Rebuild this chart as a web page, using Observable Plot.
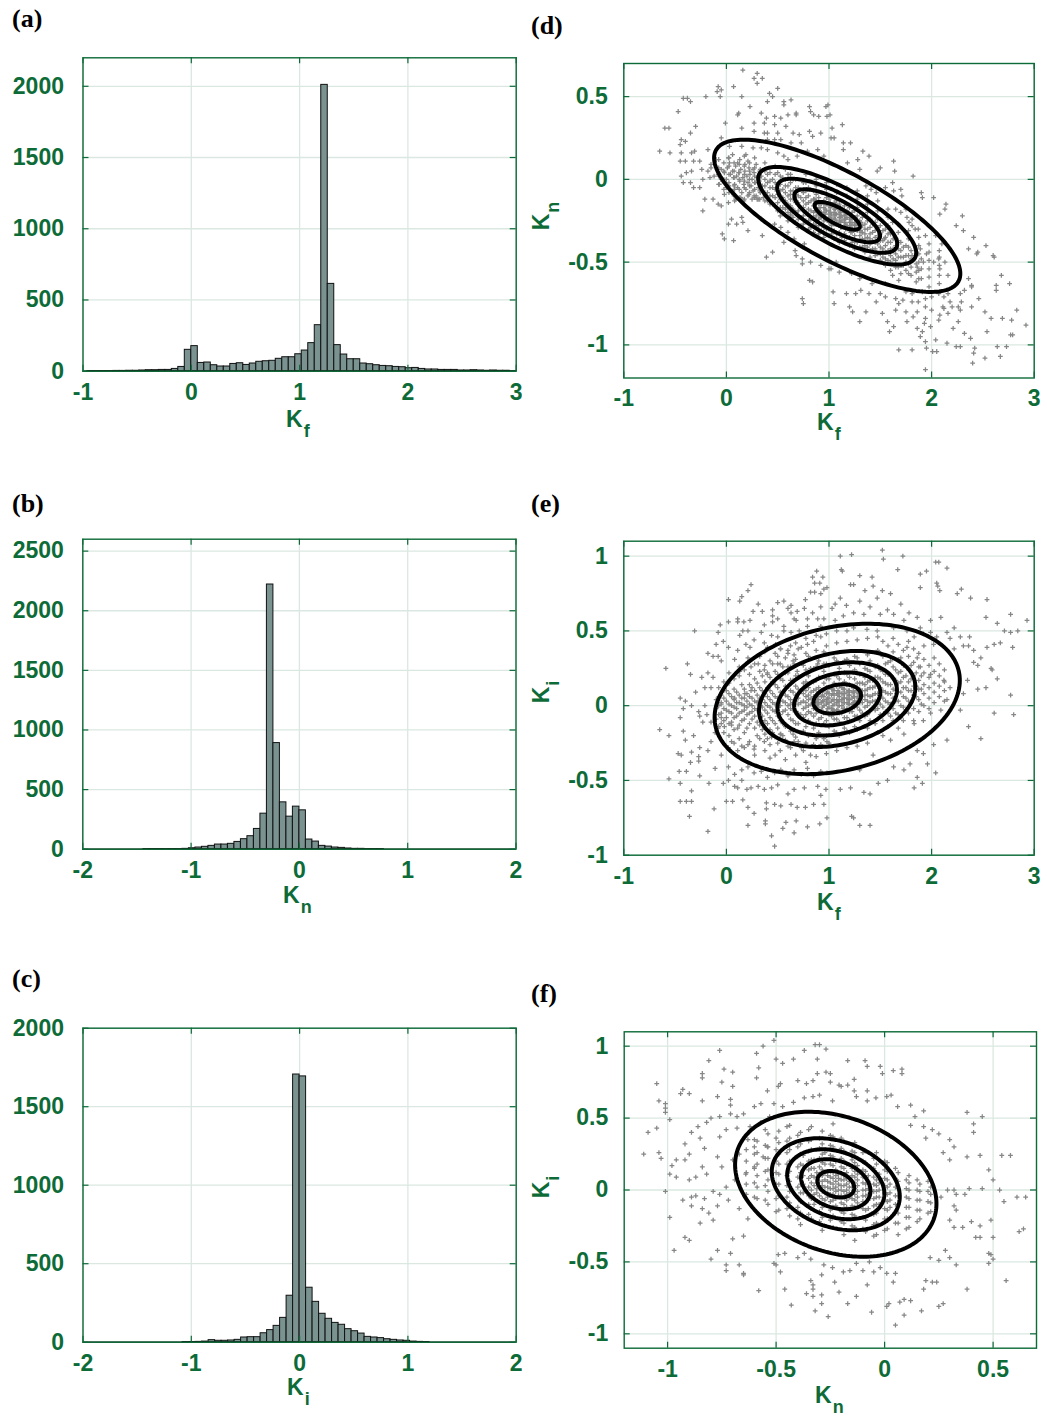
<!DOCTYPE html>
<html><head><meta charset="utf-8">
<script src="https://cdn.jsdelivr.net/npm/d3@7"></script>
<script src="https://cdn.jsdelivr.net/npm/@observablehq/plot@0.6"></script>
<style>
body{margin:0;background:#fff;}
#root{position:relative;width:1047px;height:1416px;overflow:hidden;background:#fff;font-family:"Liberation Sans",Arial,sans-serif;}
.plabel{position:absolute;font-family:"Liberation Serif","Times New Roman",serif;font-weight:bold;font-size:26px;line-height:1;color:#000;}
.alabel{position:absolute;font-family:"Liberation Sans",Arial,sans-serif;font-weight:bold;font-size:23px;line-height:1;color:#0d6b38;white-space:nowrap;}
.alabel span{font-size:18px;position:relative;top:10px;margin-left:1px;}
.ylab{transform:translate(-50%,-50%) rotate(-90deg);}
</style></head>
<body><div id="root"></div>
<script>
// ---------------- DATA ----------------
const binWidth = 0.06;
const aStart = -0.96; // (a) K_f
const aCounts = [1,1,1,1,2,2,3,3,5,7,7,9,9,16,30,150,176,58,61,42,33,33,51,56,44,54,66,70,73,87,98,98,119,145,197,323,2010,613,183,117,84,84,54,49,42,37,35,30,28,21,23,16,12,12,9,9,9,5,5,7,5,3,5,3,3,1];
const bStart = -1.98; // (b) K_n
const bCounts = [0,0,0,0,0,0,0,0,0,1,1,1,1,1,1,3,8,14,20,28,39,39,45,61,84,109,170,298,2220,890,393,273,357,326,81,64,28,22,14,11,6,3,3,1,1,1,0,0,0,0,0,0,0,0,0,0,0,0,0,0,0,0,0,0,0,0];
const cStart = -1.98; // (c) K_i
const cCounts = [0,0,0,0,0,0,0,0,0,0,0,0,0,0,0,1,1,2,4,13,9,9,11,15,30,32,32,57,77,104,155,296,1705,1693,347,257,181,149,123,111,83,70,55,34,30,26,19,15,11,9,4,2,1,0,0,0,0,0,0,0,0,0,0,0,0,0];

// (d) K_f vs K_n
const dOut = [[0.16,0.66],[0.30,0.64],[0.27,0.61],[0.35,0.61],[0.30,0.58],[-0.08,0.56],[-0.05,0.54],[0.07,0.56],[0.50,0.55],[-0.09,0.53],[-0.06,0.50],[-0.20,0.50],[-0.42,0.49],[-0.38,0.49],[-0.35,0.47],[0.15,0.50],[0.42,0.52],[0.45,0.50],[0.40,0.47],[0.56,0.47],[0.63,0.48],[0.56,0.45],[-0.47,0.41],[0.23,0.44],[0.12,0.40],[0.11,0.39],[0.34,0.40],[0.39,0.37],[0.47,0.38],[0.53,0.37],[0.60,0.39],[0.68,0.40],[0.68,0.39],[0.81,0.44],[0.82,0.41],[0.85,0.39],[0.90,0.38],[0.97,0.44],[0.98,0.38],[-0.60,0.31],[-0.56,0.31],[-0.30,0.32],[-0.01,0.34],[0.15,0.31],[0.27,0.34],[0.37,0.34],[0.47,0.33],[0.58,0.32],[0.27,0.29],[0.37,0.28],[0.40,0.28],[0.50,0.28],[0.65,0.28],[0.71,0.27],[0.81,0.29],[0.84,0.26],[0.92,0.28],[0.73,0.22],[0.63,0.22],[0.53,0.24],[0.47,0.24],[0.40,0.24],[-0.35,0.28],[-0.44,0.24],[-0.40,0.23],[-0.45,0.21],[-0.65,0.17],[-0.55,0.16],[-0.44,0.16],[-0.34,0.16],[-0.31,0.17],[-0.18,0.18],[-0.05,0.25],[0.03,0.20],[0.15,0.20],[0.26,0.19],[0.34,0.19],[0.40,0.18],[0.50,0.16],[0.56,0.14],[0.60,0.12],[0.69,0.14],[0.79,0.17],[0.89,0.18],[0.95,0.14],[-0.45,0.11],[-0.40,0.11],[-0.32,0.11],[-0.26,0.11],[-0.44,0.02],[-0.39,0.04],[-0.34,0.05],[-0.24,0.06],[-0.15,0.07],[-0.42,-0.02],[-0.35,-0.02],[-0.32,-0.05],[-0.26,-0.05],[-0.23,0.00],[-0.16,0.01],[-0.05,0.00],[0.02,-0.04],[0.08,-0.06],[-0.21,-0.12],[-0.13,-0.12],[-0.08,-0.15],[-0.23,-0.19],[-0.05,-0.16],[0.02,-0.14],[0.08,-0.13],[0.15,-0.12],[0.21,-0.10],[0.27,-0.10],[0.31,-0.12],[0.05,-0.24],[0.15,-0.23],[0.02,-0.27],[0.10,-0.27],[0.16,-0.26],[0.21,-0.31],[0.34,-0.24],[0.47,-0.27],[-0.04,-0.33],[-0.02,-0.36],[0.07,-0.37],[0.35,-0.34],[0.53,-0.29],[0.60,-0.32],[0.45,-0.44],[0.39,-0.47],[0.67,-0.43],[0.68,-0.46],[0.74,-0.48],[0.74,-0.51],[0.82,-0.50],[0.81,-0.61],[0.84,-0.62],[0.74,-0.72],[0.75,-0.75],[0.92,-0.52],[1.00,-0.54],[0.56,-0.38],[0.66,-0.36],[0.76,-0.39],
[0.99,0.45],[1.01,0.39],[1.03,0.31],[1.02,0.25],[1.05,0.25],[1.13,0.33],[1.14,0.22],[1.21,0.22],[1.14,0.18],[1.33,0.17],[1.39,0.14],[1.28,0.12],[1.18,0.10],[1.30,0.06],[1.47,0.05],[1.50,0.07],[1.63,0.11],[1.64,0.05],[1.82,0.02],[1.36,-0.04],[1.41,-0.06],[1.46,-0.08],[1.55,-0.05],[1.62,-0.02],[1.63,-0.07],[1.70,-0.06],[1.71,-0.10],[1.90,-0.08],[1.91,-0.11],[2.02,-0.11],[2.14,-0.15],[2.08,-0.21],[2.13,-0.18],[2.30,-0.22],[2.24,-0.28],[2.31,-0.31],[2.41,-0.35],[2.53,-0.40],[2.36,-0.42],[2.45,-0.44],[2.44,-0.45],[2.60,-0.46],[2.61,-0.47],[2.68,-0.58],[2.76,-0.63],[2.63,-0.64],[2.63,-0.67],[2.36,-0.60],[2.39,-0.64],[2.46,-0.72],[2.39,-0.77],[2.28,-0.79],[2.20,-0.77],[2.11,-0.77],[2.08,-0.82],[2.16,-0.81],[2.26,-0.86],[2.21,-0.90],[2.32,-0.93],[2.38,-0.96],[2.42,-1.02],[2.41,-1.05],[2.52,-0.80],[2.58,-0.84],[2.54,-0.92],[2.69,-0.84],[2.78,-0.85],[2.83,-0.79],[2.92,-0.88],[2.77,-0.94],[2.79,-0.94],[2.64,-1.01],[2.73,-1.01],[2.67,-1.07],[2.52,-1.08],[2.40,-1.11],[2.24,-1.01],[2.28,-1.01],[2.15,-0.99],[2.04,-0.97],[2.01,-1.04],[2.05,-1.04],[1.94,-0.98],[1.95,-1.02],[1.94,-1.15],[1.81,-1.03],[1.68,-1.03],[1.89,-0.95],[1.91,-0.92],[1.86,-0.90],[1.93,-0.87],[1.99,-0.89],[1.94,-0.84],[2.00,-0.79],[2.07,-0.85],[1.76,-0.86],[1.75,-0.80],[1.65,-0.79],[1.63,-0.89],[1.59,-0.92],[1.57,-0.86],[1.52,-0.81],[1.30,-0.86],[1.36,-0.80],[1.23,-0.80],[1.20,-0.77],[1.05,-0.75],[1.04,-0.68],
[1.17,-0.69],[1.26,-0.69],[1.31,-0.67],[1.39,-0.69],[1.46,-0.74],[1.55,-0.71],[1.65,-0.72],[1.72,-0.73],[1.81,-0.74],[1.87,-0.74],[1.81,-0.69],[1.75,-0.68],[1.91,-0.68],[2.00,-0.71],[2.07,-0.69],[2.12,-0.71],[2.16,-0.69],[2.28,-0.69],[2.32,-0.67],[2.39,-0.65],[2.29,-0.74],[2.26,-0.77],[2.18,-0.74],[2.12,-0.78],[1.94,-0.72],[1.94,-0.77],[1.86,-0.80],[1.82,-0.83],[1.68,-0.75],[1.50,-0.69],[1.42,-0.63],[1.30,-0.60],[1.22,-0.57],[1.10,-0.56],[1.02,-0.54],[1.07,-0.50],[1.62,-0.58],[1.68,-0.61],[1.55,-0.63],[1.71,-0.52],[1.86,-0.53],[1.92,-0.50],[1.81,-0.46],[1.95,-0.45],[2.02,-0.50],[2.08,-0.54],[2.16,-0.58],[2.07,-0.48],[2.13,-0.50],[1.89,-0.42],[1.94,-0.34],[1.84,-0.30],[1.97,-0.28],[2.04,-0.34],[2.10,-0.39],[1.76,-0.23],[1.78,-0.26],[1.81,-0.28],[1.87,-0.30],[1.70,-0.20],[1.65,-0.18],[1.75,-0.18],[1.81,-0.24],[1.62,-0.26],[1.60,-0.32],[1.54,-0.36]];
const dBlob = [[-0.08,0.03],[-0.05,0.06],[-0.04,-0.01],[-0.02,0.04],[0.0,0.0],[0.01,0.07],[0.02,-0.04],[0.04,0.03],[0.05,-0.07],[0.06,0.05],[0.07,0.01],[0.08,-0.03],[0.09,0.08],[0.1,0.02],[0.11,-0.05],[0.12,0.04],[0.13,-0.01],[0.14,0.06],[0.15,-0.08],[0.16,0.01],[0.17,-0.03],[0.18,0.05],[0.19,-0.06],[0.2,0.02],[0.21,-0.02],[0.22,-0.09],[0.23,0.03],[0.24,-0.04],[0.25,0.0],[0.26,-0.07],[0.27,0.04],[0.28,-0.02],[0.29,-0.1],[0.3,0.01],[0.31,-0.05],[0.32,-0.01],[0.33,-0.08],[0.34,0.02],[0.35,-0.04],[0.36,-0.11],[0.0,-0.05],[0.03,0.1],[0.07,-0.09],[0.11,0.1],[0.14,-0.11],[0.18,0.09],[0.22,0.07],[0.26,0.06],[0.3,-0.12],[0.33,0.06],[-0.15,0.09],[-0.12,0.02],[-0.1,0.12],[-0.07,-0.03],[0.02,0.13],[0.06,0.15],[0.09,-0.12],[0.13,0.12],[0.17,-0.13],[0.21,0.11],[0.25,-0.12],[0.29,0.09],[0.19,0.15],[-0.18,0.05],[-0.02,-0.09]];
const dColKf = [0.4,0.45,0.5,0.55,0.6,0.65,0.7,0.75,0.8,0.85,0.9,0.95,1.0,1.05,1.1,1.15,1.2,1.25,1.3,1.35,1.4,1.45,1.5,1.55,1.6,1.65,1.7,1.75,1.8,1.85,1.9];
const dColKn = [[-0.02,-0.08,-0.13,0.03],[-0.05,-0.1,-0.15,0.0],[-0.03,-0.09,-0.14,-0.19,0.04],[-0.06,-0.11,-0.17,0.01],[-0.04,-0.1,-0.15,-0.2,-0.25,0.03],[-0.07,-0.12,-0.18,-0.23,0.0],[-0.05,-0.1,-0.14,-0.19,-0.24,-0.29],[-0.08,-0.13,-0.17,-0.22,-0.27,-0.02],[-0.1,-0.14,-0.18,-0.21,-0.25,-0.3,-0.05],[-0.12,-0.16,-0.2,-0.23,-0.27,-0.32,-0.07],[-0.11,-0.15,-0.18,-0.21,-0.24,-0.28,-0.33],[-0.13,-0.17,-0.2,-0.22,-0.25,-0.29,-0.35],[-0.12,-0.16,-0.19,-0.21,-0.23,-0.26,-0.3,-0.34],[-0.14,-0.18,-0.2,-0.22,-0.24,-0.27,-0.31,-0.36],[-0.15,-0.19,-0.21,-0.23,-0.25,-0.28,-0.32,-0.38],[-0.16,-0.2,-0.22,-0.24,-0.26,-0.29,-0.33,-0.37],[-0.17,-0.21,-0.24,-0.26,-0.28,-0.31,-0.35,-0.4],[-0.19,-0.23,-0.26,-0.28,-0.3,-0.34,-0.38,-0.42],[-0.2,-0.25,-0.28,-0.31,-0.34,-0.37,-0.41],[-0.22,-0.27,-0.3,-0.33,-0.36,-0.4,-0.44],[-0.24,-0.29,-0.33,-0.36,-0.39,-0.43,-0.47],[-0.26,-0.31,-0.35,-0.38,-0.42,-0.46],[-0.28,-0.33,-0.37,-0.41,-0.45,-0.49],[-0.3,-0.35,-0.4,-0.44,-0.48,-0.52],[-0.33,-0.38,-0.42,-0.46,-0.5,-0.55],[-0.35,-0.4,-0.45,-0.49,-0.53],[-0.38,-0.43,-0.47,-0.52,-0.57],[-0.4,-0.46,-0.5,-0.55],[-0.43,-0.48,-0.53,-0.58],[-0.45,-0.51,-0.56,-0.62],[-0.48,-0.54,-0.6]];
const dCol2Kf = [0.625,0.725,0.825,0.925,1.025,1.125,1.225,1.325,1.425,1.525,1.625,1.725];
const dCol2Kn = [[-0.09,-0.16,-0.21],[-0.11,-0.17,-0.23,-0.28],[-0.13,-0.19,-0.24,-0.29],[-0.15,-0.2,-0.23,-0.27,-0.31],[-0.16,-0.21,-0.24,-0.28,-0.33],[-0.18,-0.22,-0.25,-0.29,-0.35],[-0.2,-0.24,-0.27,-0.32,-0.38],[-0.23,-0.28,-0.32,-0.36,-0.41],[-0.27,-0.32,-0.37,-0.42],[-0.31,-0.37,-0.42,-0.47],[-0.36,-0.42,-0.48],[-0.41,-0.47,-0.52]];
const dCol3Kf = [-0.075,-0.025,0.025,0.075,0.125,0.175,0.225,0.275,0.325,0.375,0.425,0.475,0.525,0.575,0.625,0.675,0.775,0.875,0.975,1.075,1.175,1.275,1.375,1.475,1.575,1.675,1.775,1.875,1.975,2.075];
const dCol3Kn = [[0.02,-0.03,0.07,0.12],[0.0,0.05,-0.06,0.1],[0.03,-0.02,0.08,-0.08,0.13],[0.01,0.05,-0.04,0.1,-0.1],[0.0,0.04,-0.06,0.09,-0.11],[-0.01,0.03,-0.05,0.08,-0.12,0.14],[0.0,-0.04,0.05,-0.08,0.1],[-0.02,0.02,-0.06,0.07,-0.11,0.13],[-0.03,0.01,-0.07,0.05,-0.12],[-0.04,0.0,-0.08,0.05,-0.13,0.1],[-0.05,-0.01,-0.1,0.04,-0.15],[-0.06,-0.02,-0.11,0.03,-0.16,0.08],[-0.07,-0.03,-0.12,0.02,-0.17,-0.22],[-0.08,-0.04,-0.13,0.0,-0.18,0.06],[-0.07,-0.12,-0.02,-0.17,0.03,-0.22],[-0.09,-0.05,-0.14,0.0,-0.2,-0.26],[-0.11,-0.07,-0.15,-0.02,-0.2,-0.25,0.03],[-0.13,-0.09,-0.17,-0.04,-0.22,-0.28,0.0],[-0.15,-0.11,-0.19,-0.06,-0.24,-0.3,-0.02],[-0.17,-0.13,-0.21,-0.08,-0.26,-0.33,-0.03],[-0.19,-0.15,-0.23,-0.1,-0.28,-0.35,-0.05],[-0.22,-0.17,-0.26,-0.12,-0.31,-0.38,-0.07],[-0.25,-0.2,-0.3,-0.15,-0.35,-0.41,-0.1],[-0.29,-0.24,-0.34,-0.19,-0.39,-0.45,-0.13],[-0.33,-0.28,-0.38,-0.23,-0.43,-0.49,-0.18],[-0.37,-0.32,-0.42,-0.27,-0.47,-0.53],[-0.41,-0.36,-0.46,-0.31,-0.51,-0.57],[-0.45,-0.4,-0.5,-0.35,-0.55,-0.6],[-0.49,-0.44,-0.54,-0.39,-0.59,-0.65],[-0.52,-0.47,-0.58,-0.43,-0.63]];
const dCol4Kf = [0.8625,0.9125,0.9625,1.0125,1.0625,1.1125,1.1625,1.2125,1.2625,1.3125];
const dCol4Kn = [[-0.15,-0.19,-0.12],[-0.17,-0.14,-0.2,-0.23],[-0.18,-0.15,-0.21,-0.24],[-0.2,-0.17,-0.23,-0.26,-0.14],[-0.21,-0.18,-0.24,-0.27,-0.15],[-0.23,-0.2,-0.26,-0.29,-0.17],[-0.24,-0.21,-0.27,-0.3],[-0.26,-0.23,-0.29,-0.32],[-0.27,-0.3,-0.24],[-0.29,-0.32,-0.26]];

// (e) K_f vs K_i
const eOut = [[0.88,0.90],[0.84,0.86],[0.94,0.86],[0.86,0.82],[0.91,0.82],[0.95,0.78],[0.86,0.76],[0.82,0.76],[0.92,0.75],[0.98,0.79],[0.24,0.81],[0.21,0.77],[0.15,0.73],[0.02,0.71],[0.13,0.70],[0.31,0.68],[0.50,0.69],[0.56,0.70],[0.63,0.67],[0.60,0.65],[0.69,0.63],[0.77,0.71],[0.76,0.65],[0.84,0.62],[0.92,0.66],[0.26,0.63],[0.35,0.63],[0.45,0.64],[0.45,0.60],[0.50,0.58],[0.56,0.53],[0.63,0.62],[0.66,0.58],[0.68,0.57],[0.79,0.58],[0.89,0.58],[0.95,0.58],[-0.31,0.50],[-0.08,0.49],[-0.06,0.54],[0.02,0.56],[0.11,0.58],[0.11,0.56],[0.17,0.56],[0.23,0.57],[0.37,0.54],[0.45,0.56],[0.56,0.50],[0.63,0.49],[0.71,0.50],[0.79,0.53],[0.92,0.53],[0.16,0.50],[0.21,0.50],[0.34,0.49],[0.44,0.47],[0.50,0.46],[0.13,0.47],[0.02,0.39],[0.11,0.37],[0.19,0.41],[0.23,0.39],[0.27,0.44],[0.37,0.42],[0.40,0.39],[0.48,0.41],[0.53,0.38],[0.60,0.37],[0.66,0.34],[0.73,0.39],[0.79,0.41],[0.85,0.43],[0.92,0.46],[-0.03,0.43],[-0.10,0.41],[-0.13,0.33],[-0.18,0.35],[-0.08,0.33],[-0.05,0.30],[0.08,0.31],[0.21,0.32],[0.13,0.23],[0.24,0.26],[0.31,0.28],[0.37,0.24],[0.40,0.21],[0.50,0.28],[0.60,0.26],[0.66,0.28],[0.69,0.23],[0.82,0.25],[0.89,0.28],[0.95,0.28],[-0.59,0.25],[-0.38,0.28],[-0.35,0.21],[-0.24,0.19],[-0.18,0.22],[-0.13,0.19],[-0.15,0.12],[-0.21,0.12],[-0.30,0.09],[-0.45,0.05],[-0.40,0.03],[-0.34,0.00],[-0.42,-0.02],[-0.45,-0.08],[-0.27,-0.04],[-0.21,0.00],[-0.19,-0.06],[-0.26,-0.07],[-0.23,-0.11],[-0.15,-0.11],[-0.08,-0.15],[-0.05,-0.08],[-0.02,-0.14],[0.05,-0.11],[0.11,-0.15],[-0.05,0.02],[0.08,0.05],[0.18,0.08],[0.24,0.10],[0.31,0.03],[-0.65,-0.16],[-0.56,-0.20],[-0.42,-0.17],[-0.40,-0.23],[-0.32,-0.20],[-0.26,-0.28],[-0.34,-0.31],[-0.27,-0.34],[-0.18,-0.30],[-0.15,-0.24],[-0.11,-0.18],[-0.05,-0.33],[0.02,-0.28],[0.05,-0.24],[0.11,-0.30],[0.15,-0.27],[0.21,-0.26],[0.27,-0.29],[0.37,-0.24],[0.44,-0.21],[0.53,-0.19],[0.66,-0.24],[0.73,-0.28],[0.82,-0.33],[0.92,-0.26],[0.98,-0.24],[-0.47,-0.32],[-0.44,-0.33],[-0.46,-0.44],[-0.39,-0.44],[-0.35,-0.38],[-0.27,-0.37],[-0.11,-0.42],[0.02,-0.41],[0.08,-0.46],[0.15,-0.43],[0.21,-0.41],[0.27,-0.45],[0.34,-0.44],[0.40,-0.48],[0.47,-0.45],[0.53,-0.43],[0.60,-0.47],[0.66,-0.43],[0.73,-0.46],[0.79,-0.42],[0.85,-0.47],[0.92,-0.44],[0.98,-0.45],[-0.56,-0.49],[-0.45,-0.52],[-0.34,-0.57],[-0.26,-0.47],[-0.17,-0.52],[-0.03,-0.52],[0.02,-0.50],[0.08,-0.54],[0.11,-0.55],[0.15,-0.50],[0.20,-0.56],[0.24,-0.55],[0.31,-0.54],[0.37,-0.56],[0.44,-0.55],[0.50,-0.53],[0.60,-0.59],[0.66,-0.56],[0.76,-0.55],[0.89,-0.54],[0.97,-0.56],[-0.45,-0.64],[-0.39,-0.64],[-0.34,-0.64],[-0.36,-0.74],[-0.12,-0.69],[0.00,-0.64],[0.06,-0.64],[0.16,-0.63],[0.21,-0.68],[0.27,-0.72],[0.39,-0.65],[0.39,-0.69],[0.47,-0.66],[0.53,-0.67],[0.63,-0.66],[0.69,-0.68],[0.77,-0.68],[0.85,-0.66],[0.92,-0.60],[0.95,-0.66],[-0.18,-0.84],[0.21,-0.80],[0.38,-0.77],[0.38,-0.79],[0.44,-0.87],[0.58,-0.78],[0.55,-0.82],[0.66,-0.85],[0.68,-0.77],[0.79,-0.81],[0.91,-0.79],[0.47,-0.94],[0.98,-0.75],
[1.11,1.00],[1.22,1.01],[1.52,1.04],[1.53,0.98],[1.72,1.00],[1.12,0.91],[1.13,0.90],[1.67,0.91],[1.42,0.86],[1.30,0.87],[1.21,0.81],[1.24,0.81],[1.35,0.77],[1.43,0.80],[1.95,0.90],[1.89,0.88],[2.04,0.96],[2.07,0.96],[2.15,0.92],[1.89,0.79],[2.05,0.82],[2.06,0.80],[2.08,0.77],[2.29,0.78],[2.25,0.75],[2.38,0.72],[2.54,0.71],[2.64,0.55],[2.77,0.61],[2.93,0.57],[2.84,0.50],[2.71,0.50],[2.77,0.49],[2.79,0.39],[2.67,0.42],[2.61,0.41],[2.53,0.59],[2.54,0.39],[2.48,0.32],[2.41,0.37],[2.37,0.46],[2.28,0.46],[2.22,0.52],[2.18,0.45],[2.15,0.49],[2.05,0.46],[2.02,0.41],[2.22,0.38],[2.31,0.40],[2.36,0.40],[2.41,0.29],[2.45,0.27],[2.58,0.25],[2.59,0.24],[2.64,0.18],[2.45,0.11],[2.53,0.12],[2.35,0.17],[2.31,0.08],[2.28,-0.03],[2.36,-0.14],[2.48,-0.22],[2.61,-0.05],[2.77,0.07],[2.80,-0.06],[2.15,-0.23],[2.02,-0.26],[2.04,-0.45],[1.91,-0.52],[1.86,-0.48],[1.83,-0.55],[1.96,-0.39],[1.92,-0.32],[1.86,-0.30],[1.79,-0.39],[1.73,-0.43],[1.63,-0.41],[1.57,-0.50],[1.48,-0.52],[1.40,-0.59],[1.34,-0.58],[1.30,-0.80],[1.40,-0.80],[1.22,-0.74],[1.24,-0.75],[1.11,-0.56],[1.21,-0.55],[1.30,-0.43],[1.43,-0.33],[1.60,-0.23],[1.73,-0.19],[1.83,-0.12],[1.92,-0.10],[1.99,-0.05],[2.09,-0.03],[2.15,0.04],[2.18,0.12],[2.12,0.17],[1.99,0.21],[1.89,0.26],[1.86,0.32],[1.76,0.39],[1.83,0.46],[1.92,0.48],[1.99,0.57],[2.09,0.59],[1.73,0.57],[1.63,0.61],[1.57,0.64],[1.50,0.61],[1.40,0.66],[1.34,0.61],[1.24,0.62],[1.14,0.60],[1.06,0.57],[1.24,0.52],[1.37,0.51],[1.47,0.50],[1.63,0.52],[1.76,0.50],[1.89,0.52],[1.99,0.49],[1.86,0.59],[1.78,0.62],[1.70,0.68],[1.60,0.75],[1.52,0.77],[1.47,0.72],[1.11,0.72],[1.06,0.68],[1.03,0.65],[1.17,0.67],[1.30,0.70]];
const eColKf = [-0.1,-0.05,0.0,0.05,0.1,0.15,0.2,0.25,0.3,0.35,0.4,0.45,0.5,0.55,0.6,0.65,0.7,0.75,0.8,0.85,0.9,0.95,1.0,1.05,1.1,1.15,1.2,1.25,1.3,1.35,1.4,1.45,1.5,1.55,1.6,1.65,1.7,1.75,1.8,1.85,1.9];
const eColKi = [[-0.02,0.04,-0.09],[0.01,-0.05,0.07,-0.12],[-0.03,0.03,-0.08,0.1],[0.0,-0.05,0.06,-0.13],[-0.02,0.02,-0.07,0.09],[0.01,-0.04,0.05,-0.1,0.14],[-0.01,0.03,-0.06,0.08,-0.15],[0.0,-0.04,0.05,-0.09,0.12],[0.02,-0.03,0.07,-0.11,0.15,-0.2],[-0.01,0.04,-0.07,0.1,-0.16,0.2],[0.0,0.06,-0.05,0.12,-0.12,0.22,-0.22],[0.02,-0.03,0.08,-0.1,0.16,-0.18,0.28],[-0.01,0.05,-0.07,0.12,-0.15,0.21,-0.25,0.33],[0.03,-0.04,0.09,-0.12,0.17,-0.2,0.26],[0.0,0.06,-0.06,0.13,-0.14,0.22,-0.27,0.35],[0.02,-0.03,0.09,-0.1,0.17,-0.19,0.3],[0.01,0.05,-0.05,0.11,-0.12,0.2,-0.24,0.38],[0.03,-0.02,0.08,-0.08,0.15,-0.17,0.27,-0.3],[0.0,0.04,0.07,-0.04,0.12,-0.1,0.2,-0.2,0.33],[0.02,0.06,-0.02,0.1,-0.07,0.16,-0.15,0.25,-0.26],[0.01,0.04,0.08,-0.03,0.12,-0.09,0.19,-0.18,0.3],[0.03,0.06,0.0,0.1,-0.05,0.15,-0.12,0.23,-0.22,0.36],[0.02,0.05,0.08,-0.01,0.12,-0.06,0.18,-0.14,0.27,-0.25],[0.04,0.07,0.01,0.1,-0.03,0.15,-0.09,0.21,-0.17,0.32],[0.03,0.06,0.09,0.0,0.13,-0.05,0.18,-0.11,0.25,-0.2],[0.05,0.08,0.02,0.11,-0.02,0.16,-0.08,0.22,-0.15,0.3],[0.04,0.07,0.1,0.01,0.14,-0.04,0.19,-0.1,0.27,-0.18],[0.06,0.09,0.03,0.13,-0.01,0.18,-0.07,0.24,-0.14,0.33],[0.05,0.08,0.11,0.02,0.15,-0.03,0.21,-0.1,0.28],[0.07,0.1,0.04,0.14,-0.01,0.19,-0.07,0.25,-0.14],[0.06,0.12,0.02,0.17,-0.04,0.23,-0.1,0.3],[0.08,0.13,0.03,0.19,-0.03,0.26,-0.12],[0.07,0.12,0.01,0.18,-0.06,0.24,0.35],[0.09,0.15,0.03,0.21,-0.04,0.28],[0.08,0.14,0.01,0.2,-0.07,0.3],[0.1,0.17,0.03,0.24,-0.05],[0.09,0.16,0.0,0.23,-0.08,0.32],[0.12,0.05,0.2,-0.03],[0.1,0.18,0.02,0.27],[0.13,0.06,0.22],[0.11,0.2,0.01]];
const eCol2Kf = [0.725,0.825,0.925,1.025,1.125,1.225,1.325,1.425];
const eCol2Ki = [[0.02,-0.06,0.1],[0.01,0.05,-0.05,0.09],[0.02,0.06,-0.03,0.1,-0.08],[0.03,0.07,-0.02,0.11,-0.07],[0.04,0.08,0.0,0.12,-0.05],[0.05,0.09,0.01,0.13,-0.04],[0.06,0.1,0.02,0.15,-0.05],[0.07,0.12,0.03,0.17]];
const eCol3Kf = [-0.075,-0.025,0.025,0.075,0.125,0.175,0.225,0.275,0.325,0.375,0.425,0.475,0.525,0.575,0.625,0.675,0.775,0.875,0.975,1.075,1.175,1.275,1.375,1.475,1.525,1.575,1.625,1.675,1.725,1.775,1.825,1.875,1.925,1.975,2.025,2.075,2.125];
const eCol3Ki = [[0.0,-0.06,0.06,-0.14,0.12],[-0.02,0.05,-0.1,0.1,-0.18,0.16],[0.01,-0.04,0.08,-0.12,0.15,-0.2,0.22],[-0.01,0.04,-0.08,0.11,-0.16,0.18,-0.25],[0.02,-0.05,0.07,-0.13,0.2,-0.22,0.26],[0.0,-0.03,0.05,-0.09,0.11,-0.18,0.24,-0.28],[0.01,0.06,-0.05,0.14,-0.12,0.21,-0.24,0.3],[-0.02,0.03,-0.07,0.1,-0.15,0.18,-0.27,0.28,-0.33],[0.0,0.05,-0.05,0.12,-0.13,0.23,-0.22,0.33],[0.02,-0.03,0.08,-0.1,0.16,-0.19,0.27,-0.3,0.36],[-0.01,0.04,-0.08,0.1,-0.16,0.19,-0.26,0.3,-0.35],[0.01,0.06,-0.04,0.14,-0.12,0.23,-0.21,0.35,-0.33],[0.0,0.03,-0.06,0.09,-0.1,0.18,-0.19,0.28,-0.3,0.38],[0.02,0.07,-0.03,0.13,-0.14,0.22,-0.23,0.32,-0.36],[0.01,0.04,-0.02,0.1,-0.09,0.17,-0.17,0.26,-0.28,0.4],[0.03,0.07,-0.04,0.13,-0.12,0.2,-0.21,0.31,-0.33,0.42],[0.02,0.06,-0.01,0.1,-0.06,0.16,-0.14,0.24,-0.25,0.35,-0.38,0.45],[0.03,0.07,0.0,0.11,-0.05,0.17,-0.12,0.26,-0.22,0.37,-0.34,0.47],[0.04,0.08,0.01,0.12,-0.04,0.18,-0.1,0.28,-0.2,0.4,-0.32,0.48],[0.04,0.08,0.02,0.13,-0.03,0.2,-0.09,0.3,-0.18,0.42,-0.3,0.5],[0.05,0.09,0.02,0.14,-0.02,0.21,-0.08,0.31,-0.17,0.43,-0.28,0.5],[0.06,0.1,0.03,0.15,-0.01,0.22,-0.07,0.32,-0.16,0.44,-0.27],[0.07,0.11,0.03,0.16,0.0,0.24,-0.06,0.34,-0.15,0.45,-0.25],[0.08,0.13,0.04,0.19,-0.02,0.27,-0.09,0.37,-0.18,0.46],[0.1,0.05,0.16,-0.01,0.23,-0.1,0.33,0.43,-0.2],[0.08,0.14,0.02,0.21,-0.05,0.29,-0.14,0.4],[0.11,0.05,0.18,-0.02,0.26,-0.1,0.36,0.45],[0.09,0.15,0.03,0.22,-0.06,0.31,-0.15,0.41],[0.12,0.06,0.19,-0.01,0.27,-0.1,0.37],[0.1,0.16,0.03,0.24,-0.05,0.33,0.43],[0.13,0.07,0.2,-0.02,0.29,-0.1,0.38],[0.11,0.17,0.04,0.26,-0.04,0.35],[0.14,0.08,0.22,0.0,0.31,0.4],[0.12,0.19,0.05,0.27,-0.02],[0.15,0.09,0.23,0.02,0.32],[0.13,0.2,0.06,0.28],[0.16,0.1,0.24,0.03]];
const eCol4Kf = [0.8875,0.9375,0.9875,1.0375,1.0875,1.1375,1.1875,1.2375,1.2875];
const eCol4Ki = [[0.02,0.06,-0.01],[0.03,0.07,-0.01,0.1],[0.02,0.05,0.09,-0.02],[0.04,0.08,0.0,0.11,-0.03],[0.03,0.07,0.1,0.0,-0.03],[0.05,0.08,0.02,0.11,-0.02],[0.04,0.07,0.1,0.01],[0.06,0.09,0.02,0.12],[0.05,0.08,0.11]];

// (f) K_n vs K_i
const fOut = [[-0.51,1.04],[-0.56,1.00],[-0.59,0.95],[-0.50,0.91],[-0.47,0.88],[-0.42,0.91],[-0.37,0.97],[-0.32,1.01],[-0.30,1.01],[-0.27,0.98],[-0.31,0.91],[-0.27,0.82],[-0.31,0.81],[-0.25,0.81],[-0.17,0.90],[-0.09,0.90],[-0.08,0.86],[-0.02,0.86],[0.04,0.83],[0.08,0.84],[0.08,0.81],[-0.01,0.81],[-0.14,0.77],[-0.17,0.73],[-0.08,0.69],[-0.14,0.69],[-0.21,0.73],[-0.25,0.75],[-0.33,0.76],[-0.36,0.74],[-0.40,0.76],[-0.48,0.74],[-0.49,0.72],[-0.54,0.69],[-0.59,0.78],[-0.58,0.85],[-0.70,0.82],[-0.74,0.84],[-0.76,0.97],[-0.81,0.90],[-0.84,0.81],[-0.84,0.78],[-0.75,0.75],[-0.70,0.72],[-0.71,0.63],[-0.71,0.59],[-0.77,0.65],[-0.84,0.62],[-0.90,0.67],[-0.93,0.70],[-0.94,0.67],[-1.05,0.74],[-1.04,0.62],[-1.01,0.60],[-1.01,0.54],[-1.01,0.57],[-0.99,0.49],[-1.05,0.43],[-1.09,0.40],[-1.11,0.25],[-1.04,0.26],[-1.03,0.22],[-0.98,0.17],[-0.99,0.11],[-0.96,0.09],[-0.96,0.21],[-0.92,0.32],[-0.89,0.40],[-0.86,0.44],[-0.82,0.47],[-0.80,0.50],[-0.76,0.51],[-0.71,0.53],[-0.68,0.51],[-0.65,0.53],[-0.60,0.58],[-0.57,0.60],[-0.51,0.60],[-0.47,0.58],[-0.42,0.61],[-0.37,0.64],[-0.33,0.65],[-0.30,0.66],[-0.24,0.62],[-0.20,0.72],[-0.13,0.65],[-0.08,0.62],[-0.04,0.64],[0.01,0.65],[0.03,0.66],[0.06,0.58],[0.12,0.59],[0.14,0.51],[0.18,0.55],[0.12,0.45],[0.18,0.44],[0.19,0.36],[0.22,0.42],[0.25,0.39],[0.30,0.35],[0.27,0.26],[0.30,0.21],[0.32,0.30],[0.38,0.23],[0.41,0.46],[0.41,0.40],[0.38,0.54],[0.45,0.51],[0.44,0.24],[0.48,0.14],[0.50,0.07],[0.54,0.24],[0.58,0.24],[0.53,0.00],[0.61,-0.05],[0.65,-0.05],[0.55,-0.08],[0.45,0.01],[0.39,0.01],[0.37,-0.03],[0.33,-0.03],[0.32,0.00],[0.29,0.00],[0.26,-0.05],[0.32,-0.11],[0.33,-0.14],[0.30,-0.21],[0.32,-0.26],[0.36,-0.26],[0.40,-0.22],[0.44,-0.25],[0.42,-0.33],[0.44,-0.33],[0.49,-0.21],[0.50,-0.33],[0.48,-0.44],[0.49,-0.45],[0.50,-0.48],[0.48,-0.51],[0.56,-0.63],[0.62,-0.29],[0.64,-0.27],[0.38,-0.69],[0.33,-0.52],[0.30,-0.47],[0.28,-0.42],[0.25,-0.49],[0.21,-0.47],[0.22,-0.64],[0.19,-0.63],[0.24,-0.64],[0.25,-0.81],[0.27,-0.79],[0.18,-0.69],[0.17,-0.84],[0.12,-0.77],[0.09,-0.76],[0.09,-0.87],[0.07,-0.78],[0.05,-0.94],[0.02,-0.79],[0.01,-0.81],[0.04,-0.64],[0.05,-0.58],[0.01,-0.58],[-0.02,-0.54],[-0.05,-0.57],[-0.07,-0.50],[-0.10,-0.56],[-0.13,-0.51],[-0.16,-0.56],[-0.19,-0.57],[-0.24,-0.54],[-0.23,-0.64],[-0.08,-0.66],[-0.13,-0.74],[-0.17,-0.79],[-0.06,-0.85],[-0.21,-0.71],[-0.26,-0.88],[-0.32,-0.84],[-0.29,-0.79],[-0.33,-0.66],[-0.33,-0.69],[-0.33,-0.74],[-0.29,-0.73],[-0.34,-0.63],[-0.36,-0.72],[-0.43,-0.80],[-0.46,-0.69],[-0.48,-0.57],[-0.50,-0.52],[-0.51,-0.51],[-0.49,-0.45],[-0.46,-0.44],[-0.40,-0.47],[-0.37,-0.44],[-0.34,-0.48],[-0.28,-0.52],[-0.29,-0.59],[-0.58,-0.70],[-0.65,-0.58],[-0.65,-0.59],[-0.67,-0.52],[-0.71,-0.44],[-0.73,-0.56],[-0.73,-0.52],[-0.80,-0.48],[-0.77,-0.42],[-0.70,-0.34],[-0.65,-0.32],[-0.63,-0.20],[-0.67,-0.13],[-0.72,-0.07],[-0.77,-0.11],[-0.81,-0.16],[-0.79,-0.21],[-0.85,-0.23],[-0.84,-0.13],[-0.89,-0.11],[-0.92,-0.33],[-0.90,-0.35],[-0.97,-0.42],[-0.99,-0.19],[-1.01,-0.01],[-0.93,-0.07],[-0.89,-0.05],[-0.87,-0.04],[-0.83,-0.06],[-0.79,-0.01],[-0.76,-0.03],[-0.73,0.02],[-0.69,0.07],[-0.64,0.11],[-0.60,0.16],[-0.56,0.23],[-0.54,0.30],[-0.60,0.30],[-0.63,0.35],[-0.67,0.25],[-0.70,0.21],[-0.75,0.16],[-0.77,0.23],[-0.82,0.11],[-0.84,0.16],[-0.87,0.09],[-0.90,0.07],[-0.92,0.21],[-0.90,0.25],[-0.83,0.29],[-0.85,0.36],[-0.76,0.37],[-0.73,0.42],[-0.68,0.43],[-0.62,0.44],[-0.57,0.47],[-0.53,0.51]];
const fColKn = [-0.6,-0.55,-0.5,-0.45,-0.4,-0.35,-0.3,-0.25,-0.2,-0.15,-0.1,-0.05,0.0,0.05,0.1,0.15,0.2];
const fColKi = [[0.15,0.25,0.05,0.35,-0.05],[0.13,0.22,0.03,0.31,-0.07,0.42],[0.12,0.2,0.04,0.28,-0.06,0.36,-0.15],[0.1,0.18,0.03,0.26,-0.05,0.34,-0.13,0.44],[0.09,0.16,0.02,0.23,-0.05,0.3,-0.12,0.38,-0.2],[0.08,0.14,0.02,0.2,-0.04,0.27,-0.1,0.34,-0.17,0.42],[0.06,0.11,0.01,0.16,-0.04,0.22,-0.09,0.29,-0.15,0.36,-0.22],[0.05,0.09,0.01,0.13,-0.03,0.18,-0.08,0.24,-0.14,0.31,-0.21,0.38],[0.03,0.07,0.0,0.11,-0.04,0.16,-0.09,0.22,-0.15,0.29,-0.22,0.36],[0.02,0.06,-0.02,0.1,-0.06,0.15,-0.11,0.21,-0.17,0.27,-0.25],[0.0,0.05,-0.04,0.09,-0.08,0.14,-0.13,0.2,-0.19,0.26,-0.27],[-0.01,0.04,-0.06,0.09,-0.11,0.15,-0.17,0.22,-0.24,-0.32],[-0.02,0.03,-0.07,0.08,-0.13,0.14,-0.2,-0.28,0.2],[-0.04,0.02,-0.1,0.08,-0.16,-0.23,0.15],[-0.05,0.01,-0.12,0.07,-0.19,-0.27],[-0.07,0.0,-0.14,0.07,-0.22],[-0.08,-0.01,-0.16,0.06]];
const fCol2Kn = [-0.375,-0.325,-0.275,-0.225,-0.175,-0.125,-0.075,-0.025,0.025];
const fCol2Ki = [[0.1,0.04,0.17,-0.02,0.24],[0.09,0.03,0.15,-0.03,0.21,-0.1],[0.07,0.02,0.12,-0.02,0.18,-0.07,0.26],[0.06,0.02,0.1,-0.01,0.14,-0.06,0.2,-0.11],[0.04,0.0,0.08,-0.03,0.12,-0.07,0.18,-0.12],[0.03,-0.01,0.07,-0.05,0.11,-0.09,0.17],[0.01,-0.03,0.06,-0.07,0.1,-0.13],[0.0,-0.05,0.05,-0.1,0.11],[-0.02,-0.07,0.04,-0.12]];
const fCol3Kn = [-0.6375,-0.5875,-0.5375,-0.4875,-0.4375,-0.3875,-0.3375,-0.2875,-0.2375,-0.1875,-0.1375,-0.0875,-0.0375,0.0125,0.0625,0.1125,0.1625,0.2125];
const fCol3Ki = [[0.12,0.2,0.04,0.28,-0.03],[0.1,0.18,0.02,0.26,-0.06,0.34],[0.14,0.07,0.22,-0.01,0.3,-0.1,0.39],[0.11,0.18,0.04,0.25,-0.04,0.33,-0.14,0.41],[0.13,0.06,0.2,-0.01,0.28,-0.09,0.36,-0.18,0.45],[0.08,0.12,0.04,0.18,-0.02,0.25,-0.08,0.32,-0.16,0.4,-0.24],[0.1,0.05,0.15,0.0,0.21,-0.06,0.28,-0.13,0.35,-0.2,0.44],[0.06,0.1,0.03,0.14,-0.01,0.19,-0.06,0.25,-0.12,0.32,-0.19,0.41,-0.28],[0.04,0.08,0.01,0.12,-0.03,0.17,-0.07,0.23,-0.12,0.3,-0.18,0.37,-0.26,0.46],[0.03,0.07,-0.01,0.1,-0.05,0.15,-0.1,0.2,-0.16,0.27,-0.23,0.34,-0.31],[0.01,0.05,-0.03,0.09,-0.07,0.13,-0.12,0.19,-0.18,0.26,-0.26,0.33,-0.35],[0.0,0.04,-0.04,0.08,-0.09,0.13,-0.14,0.19,-0.21,0.27,-0.29],[-0.01,0.03,-0.05,0.07,-0.1,0.12,-0.16,0.18,-0.23,-0.31,0.26],[-0.03,0.02,-0.08,0.07,-0.14,0.13,-0.2,-0.27,0.19],[-0.04,0.01,-0.1,0.06,-0.16,0.12,-0.23,-0.31],[-0.06,0.0,-0.12,0.05,-0.19,-0.26,0.1],[-0.07,-0.01,-0.14,0.04,-0.2],[-0.09,-0.03,-0.15,0.02]];
const fCol4Kn = [-0.3125,-0.2625,-0.2125,-0.1625];
const fCol4Ki = [[0.05,0.09,0.01,0.12,-0.02],[0.06,0.02,0.1,-0.02,0.13,-0.05],[0.04,0.0,0.08,-0.04,0.11],[0.02,-0.02,0.06,-0.05]];

// Contour ellipses: centre, horizontal half-extent A, vertical half-extent B, correlation
const dEllCenter = [1.08, -0.22], dEllA = [1.2,0.77,0.585,0.418,0.22], dEllB = [0.46,0.295,0.224,0.16,0.084], dEllRho = -0.76;
const eEllCenter = [1.08, 0.045], eEllA = [1.195,0.762,0.582,0.42,0.232], eEllB = [0.503,0.321,0.245,0.177,0.098], eEllRho = 0.246;
const fEllCenter = [-0.225, 0.04], fEllA = [0.464,0.295,0.224,0.16,0.085], fEllB = [0.504,0.32,0.243,0.174,0.092], fEllRho = -0.268;

// tick values
const ticksKf = [-1,0,1,2,3];
const ticksK2 = [-2,-1,0,1,2];
const ticksKnY = [-1,-0.5,0,0.5];
const ticksKiY = [-1,-0.5,0,0.5,1];
const ticksKnX = [-1,-0.5,0,0.5];
const aY = [0,500,1000,1500,2000], bY = [0,500,1000,1500,2000,2500], cY = [0,500,1000,1500,2000];

// ---------------- RENDER ----------------
const GREEN = "#0d6b38", GRID = "#dbe8e2", BAR = "#7a9390", PT = "#868686";
const root = document.getElementById("root");
const fmt = d => String(d);
const plus = {draw(ctx, size) { const r = Math.sqrt(size / Math.PI); ctx.moveTo(-r, 0); ctx.lineTo(r, 0); ctx.moveTo(0, -r); ctx.lineTo(0, r); }};

function cols(xs, ys) { const out = []; xs.forEach((x, i) => (ys[i] || []).forEach(y => out.push([x, y]))); return out; }
function bins(start, counts) { return counts.map((c, i) => ({x1: start + i * binWidth, x2: start + (i + 1) * binWidth, y: c})); }
function ellipses(center, As, Bs, rho) {
  const phi = Math.acos(rho), out = [];
  As.forEach((A, k) => { for (let t = 0; t <= 360; t += 2) { const a = t * Math.PI / 180; out.push({x: center[0] + A * Math.cos(a), y: center[1] + Bs[k] * Math.cos(a + phi), k}); } });
  return out;
}

function panel({box, frame, xd, yd, xt, yt, marks, ypad}) {
  const [bl, bt, bw, bh] = box, [L, T, R, B] = frame;
  const iw = R - L, ih = B - T;
  const p = Plot.plot({
    width: bw, height: bh,
    marginLeft: L - bl, marginRight: bl + bw - R, marginTop: T - bt, marginBottom: bt + bh - B,
    x: {domain: xd}, y: {domain: yd},
    style: {fontFamily: "'Liberation Sans', Arial, sans-serif", fontSize: "23px", fontWeight: "bold", background: "transparent"},
    marks: [
      Plot.gridX(xt, {stroke: GRID, strokeOpacity: 1, strokeWidth: 1.3}),
      Plot.gridY(yt, {stroke: GRID, strokeOpacity: 1, strokeWidth: 1.3}),
      ...marks,
      Plot.tickX(xt, {x: d => d, stroke: GREEN, strokeWidth: 1.2, insetTop: ih - 6}),
      Plot.tickX(xt, {x: d => d, stroke: GREEN, strokeWidth: 1.2, insetBottom: ih - 6}),
      Plot.tickY(yt, {y: d => d, stroke: GREEN, strokeWidth: 1.2, insetRight: iw - 6}),
      Plot.tickY(yt, {y: d => d, stroke: GREEN, strokeWidth: 1.2, insetLeft: iw - 6}),
      Plot.frame({stroke: GREEN, strokeWidth: 1.4}),
      Plot.axisX(xt, {tickSize: 0, tickPadding: 12, fill: GREEN, tickFormat: fmt, label: null}),
      Plot.axisY(yt, {tickSize: 0, tickPadding: ypad, fill: GREEN, tickFormat: fmt, label: null})
    ]
  });
  p.style.position = "absolute"; p.style.left = bl + "px"; p.style.top = bt + "px";
  root.appendChild(p);
}

function histMarks(start, counts) {
  return [
    Plot.rectY(bins(start, counts), {x1: "x1", x2: "x2", y: "y", fill: BAR, stroke: "#111", strokeWidth: 1}),
    Plot.ruleY([0], {stroke: "#111", strokeWidth: 1.2})
  ];
}
function scatterMarks(pts, ell) {
  return [
    Plot.dot(pts, {x: d => d[0], y: d => d[1], symbol: plus, r: 2.4, stroke: PT, strokeWidth: 1.25, fill: "none"}),
    Plot.line(ell, {x: "x", y: "y", z: "k", stroke: "#000", strokeWidth: 4, curve: "linear"})
  ];
}

panel({box: [0, 40, 522, 380], frame: [82.5, 57.3, 515.7, 370.7], xd: [-1, 3], yd: [0, 2200], xt: ticksKf, yt: aY, ypad: 19, marks: histMarks(aStart, aCounts)});
panel({box: [0, 520, 522, 380], frame: [82.3, 538.7, 515.5, 848.7], xd: [-2, 2], yd: [0, 2600], xt: ticksK2, yt: bY, ypad: 19, marks: histMarks(bStart, bCounts)});
panel({box: [0, 1000, 522, 400], frame: [82.5, 1027.7, 515.7, 1341.7], xd: [-2, 2], yd: [0, 2000], xt: ticksK2, yt: cY, ypad: 19, marks: histMarks(cStart, cCounts)});

const dPts = [...dOut, ...dBlob, ...cols(dColKf, dColKn), ...cols(dCol2Kf, dCol2Kn), ...cols(dCol3Kf, dCol3Kn), ...cols(dCol4Kf, dCol4Kn)];
const ePts = [...eOut, ...cols(eColKf, eColKi), ...cols(eCol2Kf, eCol2Ki), ...cols(eCol3Kf, eCol3Ki), ...cols(eCol4Kf, eCol4Ki)];
const fPts = [...fOut, ...cols(fColKn, fColKi), ...cols(fCol2Kn, fCol2Ki), ...cols(fCol3Kn, fCol3Ki), ...cols(fCol4Kn, fCol4Ki)];

panel({box: [522, 40, 525, 380], frame: [623.3, 63, 1033.7, 377.5], xd: [-1, 3], yd: [-1.2, 0.7], xt: ticksKf, yt: ticksKnY, ypad: 16, marks: scatterMarks(dPts, ellipses(dEllCenter, dEllA, dEllB, dEllRho))});
panel({box: [522, 520, 525, 380], frame: [623.3, 540.7, 1033.7, 854.7], xd: [-1, 3], yd: [-1, 1.1], xt: ticksKf, yt: ticksKiY, ypad: 16, marks: scatterMarks(ePts, ellipses(eEllCenter, eEllA, eEllB, eEllRho))});
panel({box: [522, 1000, 525, 400], frame: [623.7, 1031.3, 1036, 1347.7], xd: [-1.2, 0.7], yd: [-1.1, 1.1], xt: ticksKnX, yt: ticksKiY, ypad: 16, marks: scatterMarks(fPts, ellipses(fEllCenter, fEllA, fEllB, fEllRho))});

// text labels
function addDiv(cls, html, left, top) { const d = document.createElement("div"); d.className = cls; d.innerHTML = html; d.style.left = left + "px"; d.style.top = top + "px"; root.appendChild(d); }
addDiv("plabel", "(a)", 12, 6);
addDiv("plabel", "(b)", 12, 491);
addDiv("plabel", "(c)", 12, 966);
addDiv("plabel", "(d)", 531, 13);
addDiv("plabel", "(e)", 531, 491);
addDiv("plabel", "(f)", 531, 981);
addDiv("alabel", "K<span>f</span>", 286, 408);
addDiv("alabel", "K<span>n</span>", 283, 884);
addDiv("alabel", "K<span>i</span>", 287, 1376);
addDiv("alabel", "K<span>f</span>", 817, 411);
addDiv("alabel", "K<span>f</span>", 817, 891);
addDiv("alabel", "K<span>n</span>", 815, 1384);
addDiv("alabel ylab", "K<span>n</span>", 541, 216);
addDiv("alabel ylab", "K<span>i</span>", 541, 692);
addDiv("alabel ylab", "K<span>i</span>", 541, 1187);
</script>
</body></html>
